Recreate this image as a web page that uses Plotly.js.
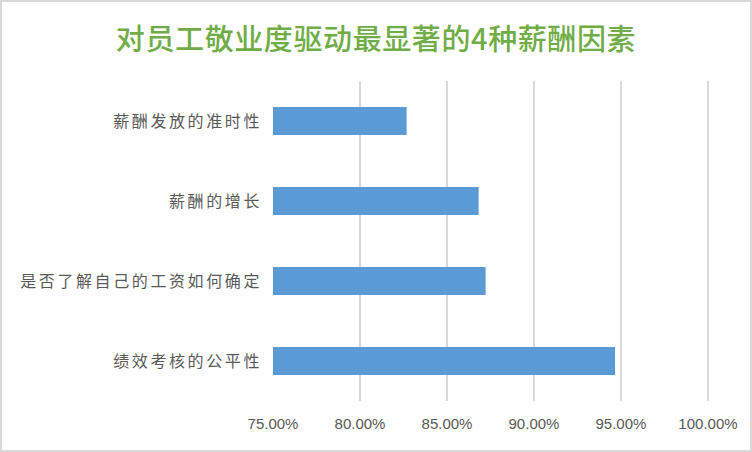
<!DOCTYPE html>
<html>
<head>
<meta charset="utf-8">
<script src="https://cdn.plot.ly/plotly-3.0.1.min.js"></script>
<style>
  html, body { margin: 0; padding: 0; background: #fff; }
  #wrap { position: relative; width: 752px; height: 452px; }
  #chart { width: 752px; height: 452px; }
  #frame { position: absolute; left: 0; top: 0; width: 748px; height: 448px; border: 2px solid #D9D9D9; pointer-events: none; }
  .ytick text { letter-spacing: 2.6px; }
  .gtitle { letter-spacing: 0.6px; }
</style>
</head>
<body>
<div id="wrap">
  <div id="chart"></div>
  <div id="frame"></div>
</div>
<script>
const titleText = "对员工敬业度驱动最显著的4种薪酬因素";
const categories = ["薪酬发放的准时性", "薪酬的增长", "是否了解自己的工资如何确定", "绩效考核的公平性"];
const values = [82.68, 86.82, 87.22, 94.66];
const tickValues = [75, 80, 85, 90, 95, 100];
const tickLabels = ["75.00%", "80.00%", "85.00%", "90.00%", "95.00%", "100.00%"];

const cjk = '"Noto Sans CJK SC", "Microsoft YaHei", sans-serif';
const axisMin = 75;

const trace = {
  type: 'bar',
  orientation: 'h',
  y: categories,
  x: values.map(v => v - axisMin),
  base: axisMin,
  marker: { color: '#5B9BD5' },
  width: 0.35,
  hoverinfo: 'x+y'
};

const layout = {
  width: 752,
  height: 452,
  margin: { l: 273, r: 43, t: 81, b: 51 },
  paper_bgcolor: '#ffffff',
  plot_bgcolor: '#ffffff',
  showlegend: false,
  title: {
    text: titleText,
    font: { family: cjk, size: 29, color: '#70AD47', weight: 500 },
    x: 0.5,
    xanchor: 'center',
    y: 0.912,
    yanchor: 'middle'
  },
  xaxis: {
    range: [axisMin, 100.06],
    tickvals: tickValues,
    ticktext: tickLabels,
    showgrid: true,
    gridcolor: '#D9D9D9',
    gridwidth: 2,
    zeroline: false,
    showline: false,
    ticks: '',
    ticklabelstandoff: 12,
    tickfont: { family: '"Liberation Sans", Arial, sans-serif', size: 15, color: '#595959' },
    fixedrange: true
  },
  yaxis: {
    type: 'category',
    autorange: 'reversed',
    showgrid: false,
    zeroline: false,
    showline: false,
    ticks: '',
    ticklabelstandoff: 10,
    tickfont: { family: cjk, size: 16, color: '#595959' },
    fixedrange: true
  },
  bargap: 0.65
};

Plotly.newPlot('chart', [trace], layout, { displayModeBar: false, staticPlot: true });
</script>
</body>
</html>
